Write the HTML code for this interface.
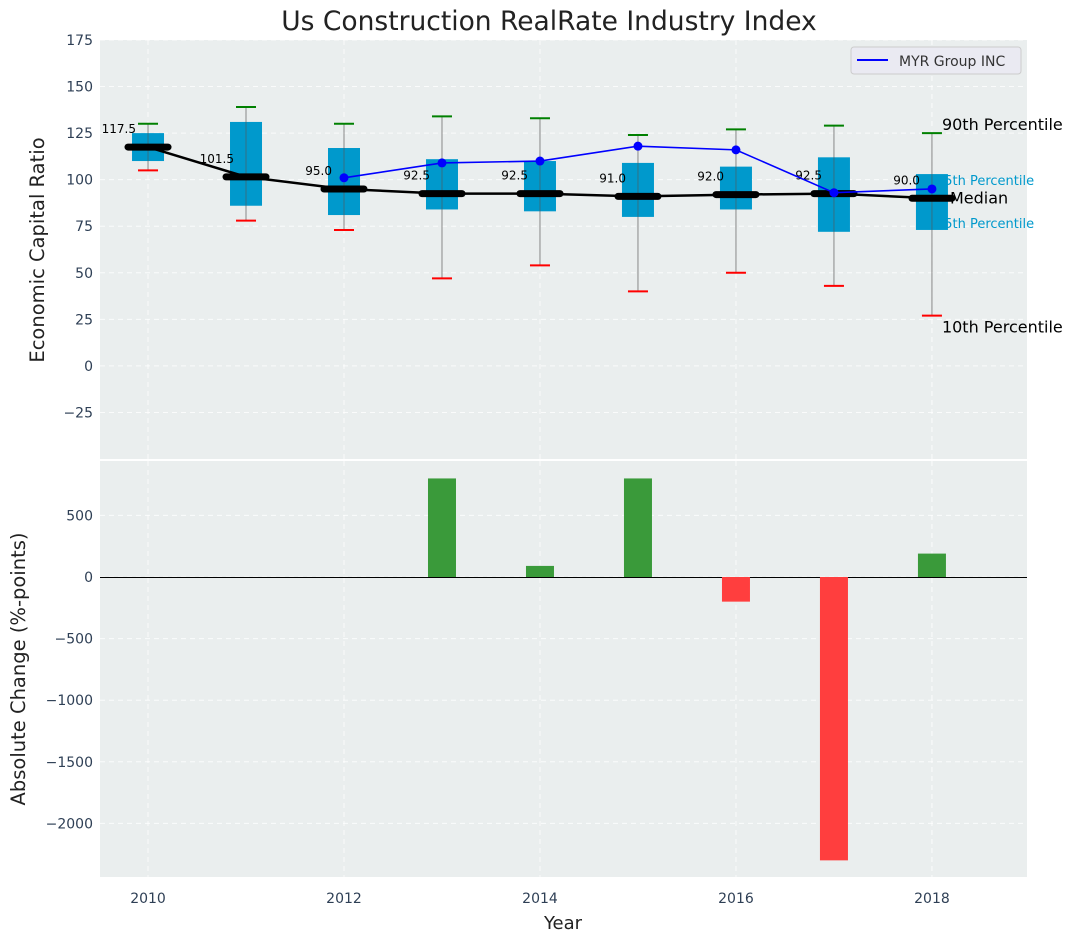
<!DOCTYPE html>
<html><head><meta charset="utf-8"><style>
body{margin:0;background:#fff;font-family:"Liberation Sans","DejaVu Sans",sans-serif}
svg text{font-family:"DejaVu Sans","Liberation Sans",sans-serif}
</style></head><body>
<svg id="c" width="1077" height="942" xmlns="http://www.w3.org/2000/svg"></svg>
<script>
const years=[2010,2011,2012,2013,2014,2015,2016,2017,2018];
const p10=[105,78,73,47,54,40,50,43,27];
const p25=[110,86,81,84,83,80,84,72,73];
const medians=[117.5,101.5,95.0,92.5,92.5,91.0,92.0,92.5,90.0];
const p75=[125,131,117,111,110,109,107,112,103];
const p90=[130,139,130,134,133,124,127,129,125];
const companyYears=[2012,2013,2014,2015,2016,2017,2018];
const companyVals=[101,109,110,118,116,93,95];
const changeYears=[2013,2014,2015,2016,2017,2018];
const changeVals=[800,90,800,-200,-2300,190];
const topTicks=[-25,0,25,50,75,100,125,150,175];
const botTicks=[-2000,-1500,-1000,-500,0,500];
const xTicks=[2010,2012,2014,2016,2018];

const NS="http://www.w3.org/2000/svg";
const svg=document.getElementById('c');
function el(t,a,p){const e=document.createElementNS(NS,t);for(const k in a)e.setAttribute(k,a[k]);(p||svg).appendChild(e);return e;}
const L=100,R=1027;
const x=v=>L+(v-2009.51)/(2018.97-2009.51)*(R-L);
const T0=40,T1=459,yt=v=>T0+(175-v)/225*(T1-T0);
const B0=461,B1=877,yb=v=>577-v*(61.6/500);

let e=el('rect',{x:L,y:T0,width:R-L,height:T1-T0,fill:'#eaeeee'});

e=el('rect',{x:L,y:B0,width:R-L,height:B1-B0,fill:'#eaeeee'});


topTicks.forEach(v=>{el('line',{x1:L,x2:R,y1:yt(v),y2:yt(v),stroke:'#fff','stroke-dasharray':'5,4','stroke-width':1,opacity:.8});
 e=el('text',{x:93,y:yt(v)+5,'text-anchor':'end','font-size':14,fill:'#2e3f55'});e.textContent=v<0?'\u2212'+(-v):v;
 });
botTicks.forEach(v=>{el('line',{x1:L,x2:R,y1:yb(v),y2:yb(v),stroke:'#fff','stroke-dasharray':'5,4','stroke-width':1,opacity:.8});
 e=el('text',{x:93,y:yb(v)+5,'text-anchor':'end','font-size':14,fill:'#2e3f55'});e.textContent=v<0?'\u2212'+(-v):v;
 });
xTicks.forEach(v=>{el('line',{x1:x(v),x2:x(v),y1:T0,y2:T1,stroke:'#fff','stroke-dasharray':'5,4',opacity:.8});
 el('line',{x1:x(v),x2:x(v),y1:B0,y2:B1,stroke:'#fff','stroke-dasharray':'5,4',opacity:.8});
 e=el('text',{x:x(v),y:903,'text-anchor':'middle','font-size':14,fill:'#2e3f55'});e.textContent=v;
 });

const lx=x(2018);
[['90th Percentile',p90[8],16,'#000',lx+10,-8],['75th Percentile',p75[8],13,'#0099cc',lx+4,6],['Median',medians[8],16,'#000',lx+18,0],['25th Percentile',p25[8],13,'#0099cc',lx+4,-7],['10th Percentile',p10[8],16,'#000',lx+10,12]].forEach(a=>{
 e=el('text',{x:a[4],y:yt(a[1])+a[5]+5,'font-size':a[2],fill:a[3]});e.textContent=a[0];
 });

years.forEach((yr,i)=>{const cx=x(yr);
 e=el('line',{x1:cx,x2:cx,y1:yt(p90[i]),y2:yt(p10[i]),stroke:'#888','stroke-width':1});
 
 e=el('rect',{x:cx-16,y:yt(p75[i]),width:32,height:yt(p25[i])-yt(p75[i]),fill:'#0099cc'});
 
 el('line',{x1:cx,x2:cx,y1:yt(p75[i]),y2:yt(p25[i]),stroke:'#555','stroke-width':1,opacity:.6});
 e=el('line',{x1:cx-10,x2:cx+10,y1:yt(p90[i]),y2:yt(p90[i]),stroke:'green','stroke-width':2});
 
 e=el('line',{x1:cx-10,x2:cx+10,y1:yt(p10[i]),y2:yt(p10[i]),stroke:'red','stroke-width':2});
 
});
e=el('polyline',{points:years.map((y,i)=>x(y)+','+yt(medians[i])).join(' '),fill:'none',stroke:'#000','stroke-width':2.5});

years.forEach((yr,i)=>{
 e=el('line',{x1:x(yr)-20,x2:x(yr)+20,y1:yt(medians[i]),y2:yt(medians[i]),stroke:'#000','stroke-width':7,'stroke-linecap':'round'});
 
 e=el('text',{x:x(yr)-12,y:yt(medians[i])-14,'text-anchor':'end','font-size':12,fill:'#000'});e.textContent=medians[i].toFixed(1);
 
});
e=el('polyline',{points:companyYears.map((y,i)=>x(y)+','+yt(companyVals[i])).join(' '),fill:'none',stroke:'blue','stroke-width':1.6});

companyYears.forEach((yr,i)=>{e=el('circle',{cx:x(yr),cy:yt(companyVals[i]),r:4.5,fill:'blue'});
 });
e=el('rect',{x:851,y:47,width:170,height:27,rx:3,fill:'#eaeaf2',stroke:'#ccc'});

el('line',{x1:857,x2:888,y1:60,y2:60,stroke:'blue','stroke-width':2});
e=el('text',{x:899,y:66,'font-size':14,fill:'#333'});e.textContent='MYR Group INC';


el('line',{x1:L,x2:R,y1:Math.round(yb(0))+0.5,y2:Math.round(yb(0))+0.5,stroke:'#000','stroke-width':1});
changeYears.forEach((yr,i)=>{const v=changeVals[i];
 e=el('rect',{x:x(yr)-14,y:Math.min(yb(v),yb(0)),width:28,height:Math.abs(yb(v)-yb(0)),fill:v>=0?'#3a9a3a':'#ff3e3e'});
 });

e=el('text',{x:549,y:30,'text-anchor':'middle','font-size':26.5,fill:'#222'});e.textContent='Us Construction RealRate Industry Index';

e=el('text',{x:563,y:929,'text-anchor':'middle','font-size':18,fill:'#222'});e.textContent='Year';

e=el('text',{x:0,y:0,'text-anchor':'middle','font-size':19.5,fill:'#222',transform:'translate(44,250) rotate(-90)'});e.textContent='Economic Capital Ratio';

e=el('text',{x:0,y:0,'text-anchor':'middle','font-size':19.5,fill:'#222',transform:'translate(25,669) rotate(-90)'});e.textContent='Absolute Change (%-points)';

</script>
</body></html>
